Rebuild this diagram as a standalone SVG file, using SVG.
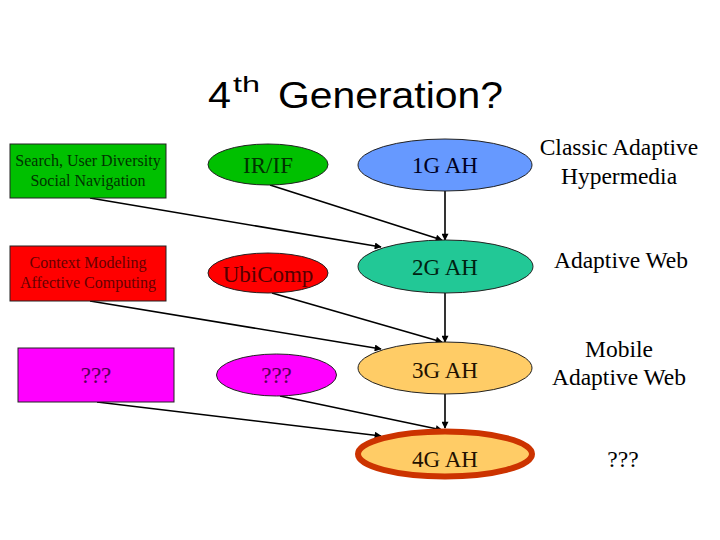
<svg xmlns="http://www.w3.org/2000/svg" width="720" height="540" viewBox="0 0 720 540">
<defs>
<marker id="ah" viewBox="0 0 10 10" refX="9" refY="5" markerWidth="8" markerHeight="7" markerUnits="userSpaceOnUse" orient="auto">
<path d="M0,0 L10,5 L0,10 z" fill="#000"/>
</marker>
<style>
.t{font-family:"Liberation Serif","Times New Roman",serif;text-anchor:middle}
.s{font-size:16px}
.m{font-size:23px}
.r{font-size:23.5px;fill:#000}
.c{stroke:#000;stroke-width:1.6;fill:none;marker-end:url(#ah)}
.n{stroke:#222;stroke-width:1}
</style>
</defs>
<rect width="720" height="540" fill="#fff"/>
<g id="title" font-family="'Liberation Sans',Arial,sans-serif" fill="#000">
<text x="208" y="108" font-size="37" textLength="23" lengthAdjust="spacingAndGlyphs">4</text>
<text x="233" y="92" font-size="22" textLength="27" lengthAdjust="spacingAndGlyphs">th</text>
<text x="278" y="108" font-size="37" textLength="225" lengthAdjust="spacingAndGlyphs">Generation?</text>
</g>
<g id="connectors">
<line class="c" x1="445" y1="191" x2="445" y2="240"/>
<line class="c" x1="445" y1="293" x2="445" y2="342"/>
<line class="c" x1="445" y1="394" x2="445" y2="428"/>
<line class="c" x1="270" y1="185" x2="442" y2="240"/>
<line class="c" x1="90" y1="198" x2="381" y2="247"/>
<line class="c" x1="272" y1="293" x2="442" y2="342"/>
<line class="c" x1="90" y1="301" x2="381" y2="349"/>
<line class="c" x1="280" y1="396" x2="442" y2="430"/>
<line class="c" x1="97" y1="402" x2="381" y2="436"/>
</g>
<g id="box1">
<rect class="n" x="10" y="144" width="156" height="54" fill="#00C000"/>
<text class="t s" x="88" y="166" fill="#003300">Search, User Diversity</text>
<text class="t s" x="88" y="186" fill="#003300">Social Navigation</text>
</g>
<g id="irif">
<ellipse class="n" cx="268" cy="164.5" rx="60" ry="20.5" fill="#00C000"/>
<text class="t m" x="268" y="173" fill="#003300">IR/IF</text>
</g>
<g id="box2">
<rect class="n" x="10" y="246" width="156" height="55" fill="#FF0000"/>
<text class="t s" x="88" y="268" fill="#660000">Context Modeling</text>
<text class="t s" x="88" y="288" fill="#660000">Affective Computing</text>
</g>
<g id="ubicomp">
<ellipse class="n" cx="268" cy="273" rx="60" ry="20" fill="#FF0000"/>
<text class="t m" x="268" y="282" fill="#550000">UbiComp</text>
</g>
<g id="box3">
<rect class="n" x="18" y="348" width="156" height="54" fill="#FF00FF"/>
<text class="t m" x="96" y="383" fill="#550055">???</text>
</g>
<g id="unk">
<ellipse class="n" cx="276.5" cy="375" rx="60" ry="21" fill="#FF00FF"/>
<text class="t m" x="276.5" y="383" fill="#550055">???</text>
</g>
<g id="g1">
<ellipse class="n" cx="445" cy="165" rx="87" ry="26" fill="#6699FF"/>
<text class="t m" x="445" y="173" fill="#000022">1G AH</text>
</g>
<g id="g2">
<ellipse class="n" cx="445.5" cy="266.5" rx="87.5" ry="26.5" fill="#22C896"/>
<text class="t m" x="445" y="275" fill="#002211">2G AH</text>
</g>
<g id="g3">
<ellipse class="n" cx="445" cy="368" rx="87" ry="26" fill="#FFCC66"/>
<text class="t m" x="445" y="378" fill="#221100">3G AH</text>
</g>
<g id="g4">
<ellipse cx="445" cy="454" rx="87" ry="22.5" fill="#FFCC66" stroke="#CC3300" stroke-width="6"/>
<text class="t m" x="445" y="467" fill="#221100">4G AH</text>
</g>
<g id="labels" font-family="'Liberation Serif','Times New Roman',serif">
<text class="t r" x="619" y="155">Classic Adaptive</text>
<text class="t r" x="619" y="184">Hypermedia</text>
<text class="t r" x="621" y="268">Adaptive Web</text>
<text class="t r" x="619" y="357">Mobile</text>
<text class="t r" x="619" y="385">Adaptive Web</text>
<text class="t r" x="623" y="467">???</text>
</g>
</svg>
